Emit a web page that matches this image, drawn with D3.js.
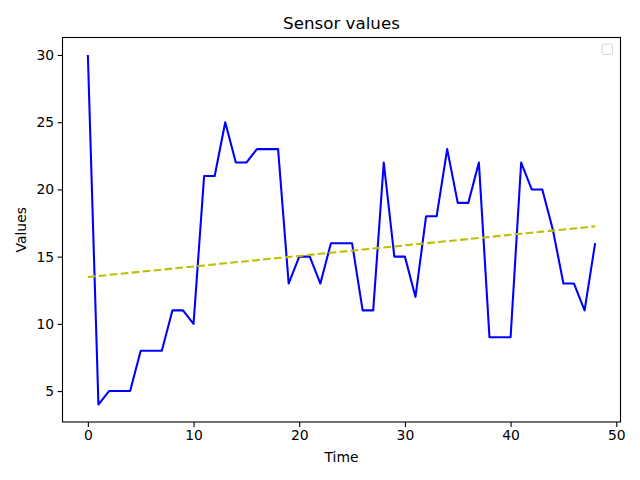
<!DOCTYPE html>
<html>
<head>
<meta charset="utf-8">
<script src="https://cdn.jsdelivr.net/npm/d3@7"></script>
<style>
  html, body { margin: 0; padding: 0; background: #fff; }
  svg { display: block; font-family: "DejaVu Sans", sans-serif; }
</style>
</head>
<body>
<svg id="chart" width="640" height="480"></svg>
<script>
// ---- data ----
const timeValues = d3.range(0, 49);
const sensorValues = [30, 4, 5, 5, 5, 8, 8, 8, 11, 11, 10, 21, 21, 25, 22, 22, 23, 23, 23, 13,
  15, 15, 13, 16, 16, 16, 11, 11, 22, 15, 15, 12, 18, 18, 23, 19, 19, 22, 9, 9,
  9, 22, 20, 20, 17, 13, 13, 11, 16];
const xTicks = [0, 10, 20, 30, 40, 50];
const yTicks = [5, 10, 15, 20, 25, 30];
const titleText = "Sensor values";
const xLabel = "Time";
const yLabel = "Values";

// ---- trend (least squares fit of the data) ----
const nPts = timeValues.length;
const mx = d3.mean(timeValues), my = d3.mean(sensorValues);
let sxy = 0, sxx = 0;
for (let i = 0; i < nPts; i++) {
  sxy += (timeValues[i] - mx) * (sensorValues[i] - my);
  sxx += (timeValues[i] - mx) ** 2;
}
const slope = sxy / sxx, intercept = my - slope * mx;
const trendValues = timeValues.map(t => intercept + slope * t);

// ---- layout ----
const pLeft = 62.5, pRight = 620.5, pTop = 37.5, pBottom = 422;
const svg = d3.select("#chart");

const xmin = d3.min(timeValues), xmax = d3.max(timeValues);
const xm = (xmax - xmin) * 0.05;
const ymin = d3.min(sensorValues), ymax = d3.max(sensorValues);
const ym = (ymax - ymin) * 0.05;

const x = d3.scaleLinear().domain([xmin - xm, xmax + xm]).range([pLeft, pRight]);
const y = d3.scaleLinear().domain([ymin - ym, ymax + ym]).range([pBottom, pTop]);

// clip
svg.append("defs").append("clipPath").attr("id", "clip")
  .append("rect").attr("x", pLeft).attr("y", pTop)
  .attr("width", pRight - pLeft).attr("height", pBottom - pTop);

const plot = svg.append("g").attr("clip-path", "url(#clip)");

plot.append("path")
  .datum(timeValues.map((t, i) => [t, sensorValues[i]]))
  .attr("fill", "none").attr("stroke", "#0000ff").attr("stroke-width", 2.08)
  .attr("stroke-linejoin", "round").attr("stroke-linecap", "butt")
  .attr("d", d3.line().x(d => x(d[0])).y(d => y(d[1])));

plot.append("path")
  .datum(timeValues.map((t, i) => [t, trendValues[i]]))
  .attr("fill", "none").attr("stroke", "#bfbf00").attr("stroke-width", 2.08)
  .attr("stroke-dasharray", "7.7,3.3")
  .attr("d", d3.line().x(d => x(d[0])).y(d => y(d[1])));

// axes
const xAxis = d3.axisBottom(x).tickValues(xTicks).tickSize(4.9).tickPadding(3.5).tickFormat(d3.format("d"));
const yAxis = d3.axisLeft(y).tickValues(yTicks).tickSize(4.9).tickPadding(3.5).tickFormat(d3.format("d"));

const gx = svg.append("g").attr("transform", `translate(0,${pBottom})`).call(xAxis);
const gy = svg.append("g").attr("transform", `translate(${pLeft},0)`).call(yAxis);
[gx, gy].forEach(g => {
  g.select(".domain").remove();
  g.selectAll(".tick line").attr("stroke", "#000").attr("stroke-width", 1.1);
  g.selectAll(".tick text").attr("fill", "#000")
    .style("font-family", "DejaVu Sans, sans-serif").style("font-size", "13.9px");
});

// frame
svg.append("rect").attr("x", pLeft).attr("y", pTop)
  .attr("width", pRight - pLeft).attr("height", pBottom - pTop)
  .attr("fill", "none").attr("stroke", "#000").attr("stroke-width", 1.1);

// legend (empty)
svg.append("rect").attr("x", 602).attr("y", 44).attr("width", 10.5).attr("height", 10.5)
  .attr("rx", 2).attr("fill", "#fff").attr("stroke", "#d6d6d6").attr("stroke-width", 1);

// texts
svg.append("text").attr("x", (pLeft + pRight) / 2).attr("y", 29)
  .attr("text-anchor", "middle").style("font-size", "16.7px").text(titleText);
svg.append("text").attr("x", (pLeft + pRight) / 2).attr("y", 462)
  .attr("text-anchor", "middle").style("font-size", "13.9px").text(xLabel);
svg.append("text").attr("transform", `translate(26,${(pTop + pBottom) / 2}) rotate(-90)`)
  .attr("text-anchor", "middle").style("font-size", "13.9px").text(yLabel);
</script>
</body>
</html>
